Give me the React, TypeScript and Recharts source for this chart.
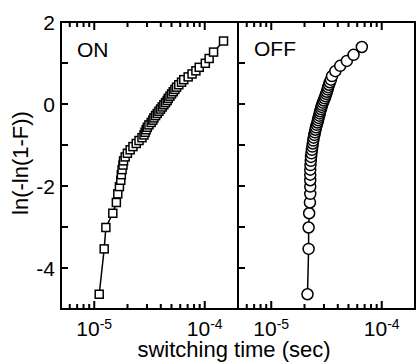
import { Line, LineChart, XAxis, YAxis } from "recharts";

// ON: switching times (sec) and Weibull ordinate
const onTimes = [
  1.109e-5, 1.23e-5, 1.274e-5, 1.472e-5, 1.585e-5, 1.633e-5, 1.69e-5, 1.738e-5, 1.758e-5, 1.786e-5,
  1.82e-5, 1.841e-5, 1.905e-5, 1.995e-5, 2.113e-5, 2.239e-5, 2.399e-5, 2.541e-5, 2.704e-5, 2.818e-5,
  2.884e-5, 2.951e-5, 3.02e-5, 3.126e-5, 3.273e-5, 3.388e-5, 3.467e-5, 3.589e-5, 3.715e-5, 3.846e-5,
  3.981e-5, 4.121e-5, 4.266e-5, 4.416e-5, 4.571e-5, 4.677e-5, 4.842e-5, 5.012e-5, 5.188e-5, 5.37e-5,
  5.559e-5, 5.821e-5, 6.166e-5, 6.457e-5, 7.079e-5, 7.674e-5, 8.318e-5, 8.913e-5, 1.012e-4, 1.096e-4,
  1.202e-4, 1.479e-4,
];
const onValues = [
  -4.64, -3.534, -3.012, -2.665, -2.402, -2.192, -2.014, -1.86, -1.724, -1.601,
  -1.489, -1.387, -1.291, -1.202, -1.118, -1.039, -0.963, -0.891, -0.822, -0.755,
  -0.691, -0.628, -0.568, -0.509, -0.451, -0.394, -0.339, -0.284, -0.23, -0.177,
  -0.124, -0.072, -0.019, 0.033, 0.085, 0.138, 0.191, 0.245, 0.299, 0.355,
  0.411, 0.47, 0.531, 0.594, 0.661, 0.732, 0.809, 0.895, 0.993, 1.11,
  1.266, 1.536,
];

// OFF: right panel
const offTimes = [
  2.128e-5, 2.178e-5, 2.178e-5, 2.203e-5, 2.239e-5, 2.254e-5, 2.254e-5, 2.254e-5, 2.254e-5, 2.254e-5,
  2.265e-5, 2.28e-5, 2.291e-5, 2.312e-5, 2.333e-5, 2.355e-5, 2.377e-5, 2.399e-5, 2.421e-5, 2.455e-5,
  2.483e-5, 2.512e-5, 2.541e-5, 2.582e-5, 2.618e-5, 2.649e-5, 2.679e-5, 2.716e-5, 2.742e-5, 2.773e-5,
  2.818e-5, 2.851e-5, 2.884e-5, 2.931e-5, 2.985e-5, 3.041e-5, 3.09e-5, 3.141e-5, 3.184e-5, 3.236e-5,
  3.273e-5, 3.327e-5, 3.388e-5, 3.467e-5, 3.548e-5, 3.802e-5, 4.207e-5, 4.831e-5, 5.559e-5, 6.607e-5,
];
const offValues = [
  -4.64, -3.534, -3.012, -2.665, -2.402, -2.192, -2.014, -1.86, -1.724, -1.601,
  -1.489, -1.387, -1.291, -1.202, -1.118, -1.039, -0.963, -0.891, -0.822, -0.755,
  -0.691, -0.628, -0.568, -0.509, -0.451, -0.394, -0.339, -0.284, -0.23, -0.177,
  -0.124, -0.072, -0.019, 0.033, 0.085, 0.138, 0.191, 0.245, 0.299, 0.355,
  0.411, 0.47, 0.531, 0.594, 0.68, 0.8, 0.93, 1.05, 1.2, 1.39,
];

const timeTicks = [6e-6, 7e-6, 8e-6, 9e-6, 1e-5, 2e-5, 3e-5, 4e-5, 5e-5, 6e-5, 7e-5, 8e-5, 9e-5, 1e-4];
const decadeTicks = [1e-5, 1e-4];
const decadeExponents = ["-5", "-4"];
const valueTicks = [-5, -4, -3, -2, -1, 0, 1, 2];
const valueLabels = [-4, -2, 0, 2];

const FONT = "'Liberation Sans', Arial, Helvetica, sans-serif";
const X_DOMAIN: [number, number] = [5e-6, 2e-4];
const Y_DOMAIN: [number, number] = [-5, 2];
const FRAME = { stroke: "#000", strokeWidth: 2, strokeLinecap: "square" as const };

const onData = onTimes.map((t, i) => ({ t, y: onValues[i] }));
const offData = offTimes.map((t, i) => ({ t, y: offValues[i] }));

function decadeIndex(v: number) {
  return decadeTicks.findIndex((d) => Math.abs(d - v) / d < 1e-6);
}

// tick marks point into the plot; lengths in px
function bottomTick(p: any) {
  const { x, y, payload } = p;
  const k = decadeIndex(payload.value);
  const len = k >= 0 ? 8 : 5;
  return (
    <g key={`b${payload.value}`}>
      <rect x={x - 1} y={y - len} width={2} height={len} fill="#000" />
      {k >= 0 && (
        <text x={x} y={y + 27} textAnchor="middle" fontSize={21} fontFamily={FONT} fill="#000">
          10
          <tspan dy={-7} fontSize={14}>
            {decadeExponents[k]}
          </tspan>
        </text>
      )}
    </g>
  );
}

function topTick(p: any) {
  const { x, y, payload } = p;
  const k = decadeIndex(payload.value);
  return <rect key={`t${payload.value}`} x={x - 1} y={y} width={2} height={k >= 0 ? 8 : 5} fill="#000" />;
}

function leftTick(p: any, labels: boolean) {
  const { x, y, payload } = p;
  return (
    <g key={`l${payload.value}`}>
      <rect x={x} y={y - 1} width={7} height={2} fill="#000" />
      {labels && valueLabels.includes(payload.value) && (
        <text x={x - 6} y={y} dy="0.36em" textAnchor="end" fontSize={21} fontFamily={FONT} fill="#000">
          {payload.value}
        </text>
      )}
    </g>
  );
}

function rightTick(p: any) {
  const { x, y, payload } = p;
  return <rect key={`r${payload.value}`} x={x - 7} y={y - 1} width={7} height={2} fill="#000" />;
}

function SquareDot({ cx, cy, index }: any) {
  return <rect key={index} x={cx - 4} y={cy - 4} width={8} height={8} fill="#fff" stroke="#000" strokeWidth={1.5} />;
}

function Panel({ data, width, yAxisWidth, labels, right, square }: any) {
  return (
    <LineChart width={width} height={363} data={data} margin={{ top: 21, right, bottom: 0, left: 0 }}>
      <XAxis
        dataKey="t"
        type="number"
        scale="log"
        domain={X_DOMAIN}
        allowDataOverflow
        ticks={timeTicks}
        interval={0}
        height={54}
        tickSize={0}
        tickMargin={0}
        tickLine={false}
        axisLine={FRAME}
        tick={bottomTick}
      />
      <XAxis
        xAxisId="top"
        orientation="top"
        dataKey="t"
        type="number"
        scale="log"
        domain={X_DOMAIN}
        allowDataOverflow
        ticks={timeTicks}
        interval={0}
        height={1}
        tickSize={0}
        tickMargin={0}
        tickLine={false}
        axisLine={FRAME}
        tick={topTick}
      />
      <YAxis
        type="number"
        domain={Y_DOMAIN}
        ticks={valueTicks}
        interval={0}
        width={yAxisWidth}
        tickSize={0}
        tickMargin={0}
        tickLine={false}
        axisLine={labels ? FRAME : false}
        tick={(p: any) => leftTick(p, labels)}
      />
      <YAxis
        yAxisId="r"
        orientation="right"
        type="number"
        domain={Y_DOMAIN}
        ticks={valueTicks}
        interval={0}
        width={1}
        tickSize={0}
        tickMargin={0}
        tickLine={false}
        axisLine={FRAME}
        tick={rightTick}
      />
      <Line
        dataKey="y"
        stroke="#000"
        strokeWidth={1.5}
        isAnimationActive={false}
        dot={square ? <SquareDot /> : { r: 5.5, fill: "#fff", stroke: "#000", strokeWidth: 1.5 }}
      />
    </LineChart>
  );
}

export default function App() {
  return (
    <div style={{ position: "relative", width: 418, height: 363, background: "#fff" }}>
      <style>{"body{margin:0}"}</style>
      <div style={{ position: "absolute", left: 0, top: 0 }}>
        <Panel data={onData} width={240} yAxisWidth={61} labels right={1} square />
      </div>
      <div style={{ position: "absolute", left: 237, top: 0 }}>
        <Panel data={offData} width={181} yAxisWidth={1} labels={false} right={2} square={false} />
      </div>
      <svg width={418} height={363} style={{ position: "absolute", left: 0, top: 0, pointerEvents: "none" }}>
        <g fontFamily={FONT} fill="#000">
          <text x={77} y={57} fontSize={21}>
            ON
          </text>
          <text x={254} y={56} fontSize={21}>
            OFF
          </text>
          <text x={234} y={357} fontSize={22} textAnchor="middle">
            switching time (sec)
          </text>
          <text x={28} y={163} fontSize={22} textAnchor="middle" transform="rotate(-90 28 163)">
            ln(-ln(1-F))
          </text>
        </g>
      </svg>
    </div>
  );
}
